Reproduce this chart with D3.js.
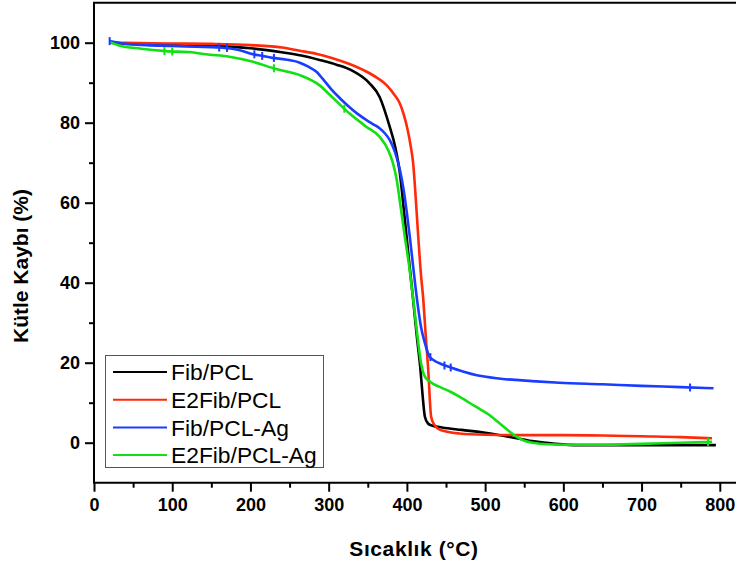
<!DOCTYPE html>
<html>
<head>
<meta charset="utf-8">
<script src="https://cdn.jsdelivr.net/npm/d3@7"></script>
<style>
  body { margin: 0; background: #fff; }
  text { font-family: "Liberation Sans", Arial, sans-serif; }
</style>
</head>
<body>
<div id="chart"></div>
<script>
// TGA curves: temperature (°C) vs remaining mass (%)
const names = ["Fib/PCL", "E2Fib/PCL", "Fib/PCL-Ag", "E2Fib/PCL-Ag"]
const colors = ["#000000", "#ff2a0a", "#1a3cff", "#12e012"]

const fibT = [20, 60, 100, 150, 200, 240, 265, 290, 310, 330, 352, 365, 378, 385, 391, 397, 403, 408, 413, 417, 420, 423, 427, 432, 445, 470, 500, 530, 560, 590, 620, 700, 795]
const fibV = [100, 99.6, 99.4, 99.2, 98.6, 97.6, 96.8, 95.6, 94.5, 93.0, 89.9, 86.5, 79, 74, 67.4, 56.5, 45, 35.7, 26, 19, 12, 6.5, 4.8, 4.3, 3.8, 3.2, 2.5, 1.5, 0.4, -0.3, -0.6, -0.6, -0.6]

const e2fibT = [20, 60, 100, 150, 200, 240, 263, 285, 304, 325, 348, 362, 374, 384, 391, 396, 401, 405, 408, 411, 414, 418, 421, 424, 427, 431, 435, 440, 450, 467, 500, 550, 600, 650, 700, 750, 790]
const e2fibV = [100, 99.9, 99.8, 99.7, 99.4, 98.8, 98.0, 97.2, 96.2, 94.8, 92.8, 91.2, 89.4, 87, 84.8, 82, 78.2, 74, 69.9, 62, 53, 42, 35.7, 27, 19, 6.5, 4.5, 3.5, 2.8, 2.3, 2.0, 1.9, 1.9, 1.8, 1.6, 1.4, 1.1]

const fibAgT = [20, 40, 67, 100, 130, 160, 185, 202, 215, 228, 245, 263, 274, 284, 294, 304, 315, 326, 337, 348, 357, 365, 372, 378, 385, 391, 396, 400, 404, 408, 413, 418, 423, 429, 440, 458, 475, 488, 520, 560, 595, 650, 700, 750, 792]
const fibAgV = [100.4, 99.7, 99.4, 99.2, 99.0, 98.8, 98.2, 97.2, 96.7, 96.2, 95.8, 95.0, 94.0, 92.8, 90.6, 88.2, 86.0, 84.0, 82.2, 80.7, 79.6, 78.6, 77.3, 75.7, 72.5, 68.2, 63, 57.4, 51, 44, 35.7, 29, 24.9, 21.5, 20, 18.7, 17.6, 16.9, 16.0, 15.4, 15.0, 14.6, 14.2, 13.9, 13.6]

const e2fibAgT = [20, 32, 60, 92, 125, 143, 173, 202, 233, 263, 288, 304, 326, 348, 365, 376, 382, 387, 392, 397, 403, 408, 413, 418, 423, 430, 441, 455, 467, 488, 505, 518, 530, 540, 550, 561, 580, 600, 650, 700, 750, 790]
const e2fibAgV = [100.2, 99.3, 98.5, 97.9, 97.6, 97.1, 96.5, 95.3, 93.4, 91.9, 89.4, 86.5, 82.4, 79, 76.5, 73.2, 70, 65.7, 59, 52, 44, 36, 27.4, 20, 16.5, 15.2, 14, 12.8, 11.5, 9, 7, 4.9, 3, 1.5, 0.5, 0, -0.4, -0.5, -0.5, -0.3, 0, 0.2]

// little "+" marks that sit on two of the curves
const fibAgMarkT = [20, 160, 170, 205, 215, 230, 430, 448, 456, 762]
const fibAgMarkV = [100.4, 98.8, 98.7, 97.1, 96.7, 96.2, 21.4, 19.3, 18.8, 13.8]
const e2fibAgMarkT = [90, 100, 230, 320, 785]
const e2fibAgMarkV = [97.9, 97.8, 93.6, 83.5, 0.2]

const xTicks = [0, 100, 200, 300, 400, 500, 600, 700, 800]
const xMinor = [50, 150, 250, 350, 450, 550, 650, 750]
const yTicks = [0, 20, 40, 60, 80, 100]
const yMinor = [10, 30, 50, 70, 90]

const series = [
  { T: fibT, V: fibV },
  { T: e2fibT, V: e2fibV },
  { T: fibAgT, V: fibAgV },
  { T: e2fibAgT, V: e2fibAgV }
].map((s, i) => ({ name: names[i], color: colors[i], pts: s.T.map((t, j) => [t, s.V[j]]) }))

const width = 736
const height = 564
const plotLeft = 94, plotTop = 2.7, plotBottom = 482.7, plotRight = 737

const svg = d3.select("#chart").append("svg")
  .attr("width", width)
  .attr("height", height)

const x = d3.scaleLinear().domain([0, 822]).range([plotLeft, plotRight])
const y = d3.scaleLinear().domain([-10, 110]).range([plotBottom, plotTop])

const line = d3.line()
  .x(d => x(d[0]))
  .y(d => y(d[1]))
  .curve(d3.curveMonotoneX)

// curves
svg.append("g")
  .selectAll("path")
  .data(series)
  .join("path")
    .attr("fill", "none")
    .attr("stroke", d => d.color)
    .attr("stroke-width", 2.6)
    .attr("stroke-linejoin", "round")
    .attr("d", d => line(d.pts))

const marks = [
  { color: colors[2], T: fibAgMarkT, V: fibAgMarkV },
  { color: colors[3], T: e2fibAgMarkT, V: e2fibAgMarkV }
]
marks.forEach(m => {
  svg.append("g")
    .selectAll("line")
    .data(m.T.map((t, i) => [t, m.V[i]]))
    .join("line")
      .attr("x1", d => x(d[0])).attr("x2", d => x(d[0]))
      .attr("y1", d => y(d[1]) - 4).attr("y2", d => y(d[1]) + 4)
      .attr("stroke", m.color)
      .attr("stroke-width", 2)
})

// axes
function styleAxis(g) {
  g.selectAll(".domain").remove()
  g.selectAll(".tick line").attr("stroke", "#000").attr("stroke-width", 2)
  g.selectAll(".tick text")
    .attr("fill", "#000")
    .attr("font-size", "18px")
    .attr("font-weight", "bold")
    .attr("font-family", "'Liberation Sans', Arial, sans-serif")
}

svg.append("g")
  .attr("transform", `translate(0,${plotBottom})`)
  .call(d3.axisBottom(x).tickValues(xTicks).tickSize(9).tickPadding(7).tickFormat(d3.format("d")))
  .call(styleAxis)

svg.append("g")
  .attr("transform", `translate(0,${plotBottom})`)
  .call(d3.axisBottom(x).tickValues(xMinor).tickSize(5).tickFormat(""))
  .call(styleAxis)

svg.append("g")
  .attr("transform", `translate(${plotLeft},0)`)
  .call(d3.axisLeft(y).tickValues(yTicks).tickSize(9).tickPadding(5).tickFormat(d3.format("d")))
  .call(styleAxis)

svg.append("g")
  .attr("transform", `translate(${plotLeft},0)`)
  .call(d3.axisLeft(y).tickValues(yMinor).tickSize(5).tickFormat(""))
  .call(styleAxis)

// frame lines
svg.append("path")
  .attr("d", `M${plotRight},${plotTop}H${plotLeft}V${plotBottom}H${plotRight}`)
  .attr("fill", "none")
  .attr("stroke", "#000")
  .attr("stroke-width", 2)

// axis titles
svg.append("text")
  .attr("x", 414).attr("y", 556)
  .attr("text-anchor", "middle")
  .attr("font-size", "21px")
  .attr("font-weight", "bold")
  .attr("letter-spacing", "0.6px")
  .text("Sıcaklık (°C)")

svg.append("text")
  .attr("transform", "translate(28,266) rotate(-90)")
  .attr("text-anchor", "middle")
  .attr("font-size", "21px")
  .attr("font-weight", "bold")
  .text("Kütle Kaybı (%)")

// legend
const legend = svg.append("g")
legend.append("rect")
  .attr("x", 105.5).attr("y", 355.5)
  .attr("width", 218).attr("height", 112)
  .attr("fill", "#fff")
  .attr("stroke", "#555")
  .attr("stroke-width", 1)

const rows = legend.selectAll("g.row")
  .data(series)
  .join("g")
    .attr("class", "row")
    .attr("transform", (d, i) => `translate(0,${372 + i * 27.7})`)

rows.append("line")
  .attr("x1", 113).attr("x2", 167)
  .attr("stroke", d => d.color)
  .attr("stroke-width", 2)

rows.append("text")
  .attr("x", 171)
  .attr("dy", "0.36em")
  .attr("font-size", "22.8px")
  .text(d => d.name)
</script>
</body>
</html>
